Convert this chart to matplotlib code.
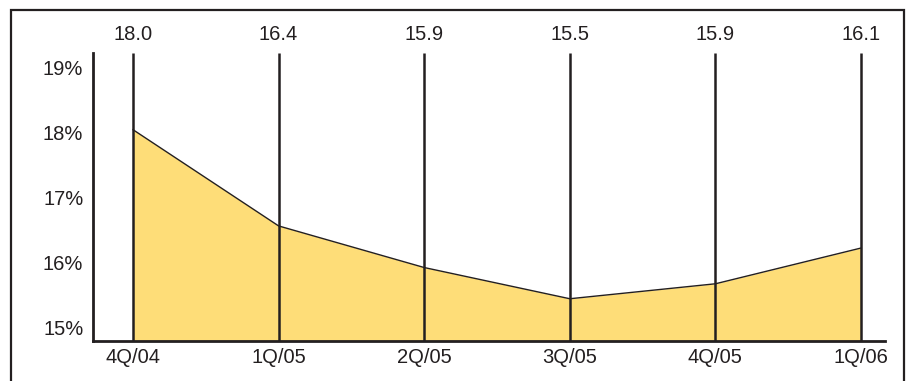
import matplotlib.pyplot as plt
import matplotlib.transforms as mtransforms
from matplotlib.patches import Rectangle

quarters = ["4Q/04", "1Q/05", "2Q/05", "3Q/05", "4Q/05", "1Q/06"]
values = [18.05, 16.57, 15.93, 15.45, 15.68, 16.23]
top_labels = ["18.0", "16.4", "15.9", "15.5", "15.9", "16.1"]
yticks = [15, 16, 17, 18, 19]

W, H = 914, 381
dark = "#231f20"
fill = "#fedd78"

plt.rcParams["font.family"] = ["Liberation Sans", "DejaVu Sans"]

fig = plt.figure(figsize=(W / 100, H / 100), dpi=100)
# axes box in pixels: left 93, right 885, bottom 341, top 53
ax = fig.add_axes([93 / W, 40 / H, (885 - 93) / W, (341 - 53) / H])

x = list(range(len(quarters)))
ymin, ymax = 14.8, 19.23
ax.fill_between(x, ymin, values, color=fill, linewidth=0, zorder=1)
ax.plot(x, values, color=dark, linewidth=1, zorder=2)
ax.vlines(x, ymin, ymax, color=dark, linewidth=1.8, zorder=3)

ax.set_xlim(-0.275, 5.165)
ax.set_ylim(ymin, ymax)
ax.set_xticks(x)
ax.set_xticklabels(quarters)
ax.set_yticks(yticks)
ax.set_yticklabels([f"{t}%" for t in yticks])
ax.tick_params(length=0, labelsize=14.5, colors=dark)
ax.tick_params(axis="y", pad=7)
ax.tick_params(axis="x", pad=5)
for side in ["top", "right"]:
    ax.spines[side].set_visible(False)
for side in ["left", "bottom"]:
    ax.spines[side].set_linewidth(2)
    ax.spines[side].set_color(dark)

# value labels above each line
trans = mtransforms.blended_transform_factory(ax.transData, fig.transFigure)
for xi, lab in zip(x, top_labels):
    ax.text(xi, (H - 34) / H, lab, transform=trans, ha="center", va="center",
            fontsize=14.5, color=dark)

# outer frame
fig.patches.append(Rectangle((11 / W, -0.05), (904 - 11) / W, (H - 10) / H + 0.05,
                             transform=fig.transFigure, fill=False,
                             edgecolor=dark, linewidth=1.6))

fig.savefig("out.png", dpi=100)
